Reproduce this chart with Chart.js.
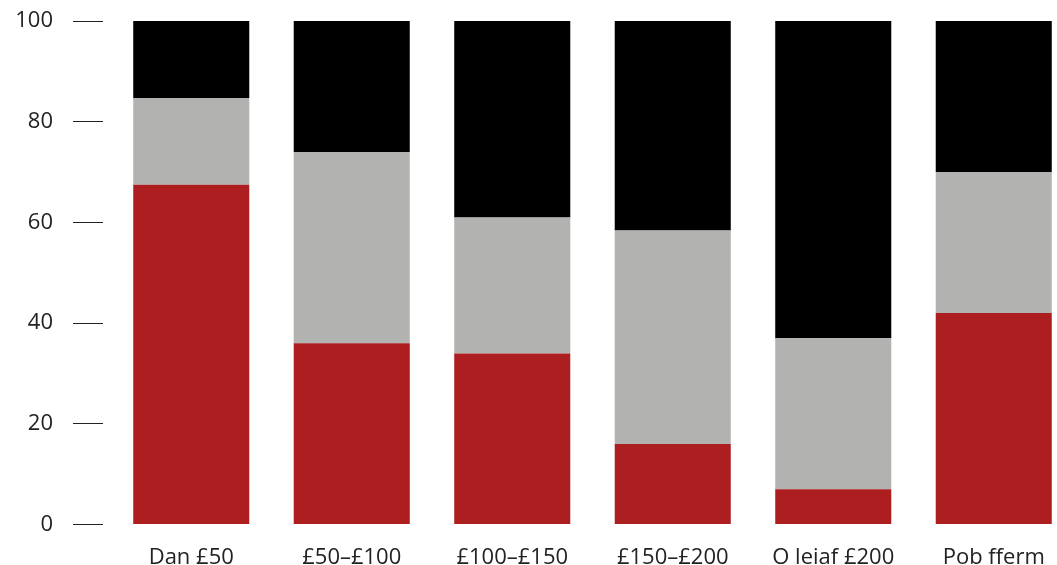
<!DOCTYPE html>
<html>
<head>
<meta charset="utf-8">
<script src="https://cdn.jsdelivr.net/npm/chart.js@4/dist/chart.umd.min.js"></script>
<style>
    html, body { margin: 0; padding: 0; background: #fff; overflow: hidden; }
    #wrap { position: relative; width: 1074px; height: 583px; }
</style>
</head>
<body>
<div id="wrap"><canvas id="myChart"></canvas></div>
<script>
const categories = ['Dan £50', '£50–£100', '£100–£150', '£150–£200', 'O leiaf £200', 'Pob fferm'];
const redValues = [67.5, 36, 34, 16, 7, 42];
const grayValues = [17.2, 38, 27, 42.4, 30, 28];
const blackValues = [15.3, 26, 39, 41.6, 63, 30];
const yTicks = [0, 20, 40, 60, 80, 100];

function renderChart() {
    let ctx = document.getElementById('myChart');

    new Chart(ctx, {
        type: 'bar',
        data: {
            labels: categories,
            datasets: [
                { data: redValues, backgroundColor: '#ad1e21' },
                { data: grayValues, backgroundColor: '#b2b2b0' },
                { data: blackValues, backgroundColor: '#000000' }
            ]
        },
        options: {
            responsive: true,
            maintainAspectRatio: false,
            animation: false,
            barPercentage: 0.723,
            categoryPercentage: 1,
            layout: {
                padding: { top: 21, right: 0, left: 0, bottom: 0 }
            },
            plugins: {
                legend: { display: false },
                tooltip: { enabled: false }
            },
            scales: {
                x: {
                    stacked: true,
                    grid: { display: false },
                    border: { display: false },
                    ticks: {
                        color: '#222',
                        padding: 12,
                        font: { family: 'Open Sans', size: 22 }
                    }
                },
                y: {
                    stacked: true,
                    min: 0,
                    max: 100,
                    afterBuildTicks: (axis) => {
                        axis.ticks = yTicks.map(v => ({ value: v }));
                    },
                    afterFit: (axis) => {
                        axis.width = 111;
                        axis.paddingTop = 0;
                        axis.paddingBottom = 0;
                    },
                    border: { display: false },
                    grid: {
                        drawOnChartArea: false,
                        drawTicks: true,
                        tickLength: 38,
                        tickColor: '#222',
                        tickWidth: 1,
                        tickBorderDash: [30, 60]
                    },
                    ticks: {
                        color: '#222',
                        padding: 20,
                        font: { family: 'Open Sans', size: 22 }
                    }
                }
            }
        }
    });
}

renderChart();
</script>
</body>
</html>
